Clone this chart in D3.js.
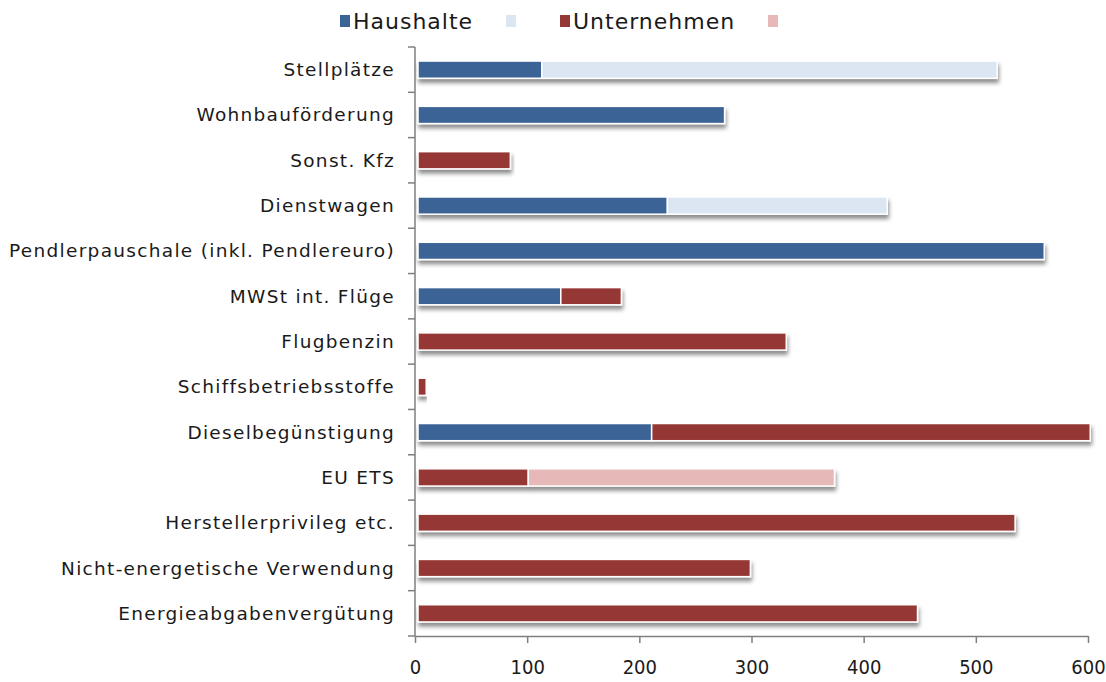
<!DOCTYPE html>
<html>
<head>
<meta charset="utf-8">
<script src="https://cdn.jsdelivr.net/npm/d3@7"></script>
<style>
  body { margin: 0; background: #fff; }
  text { fill: #1a1a1a; }
</style>
</head>
<body>
<div id="chart"></div>
<script>
let categories = ['Stellplätze', 'Wohnbauförderung', 'Sonst. Kfz', 'Dienstwagen',
  'Pendlerpauschale (inkl. Pendlereuro)', 'MWSt int. Flüge', 'Flugbenzin',
  'Schiffsbetriebsstoffe', 'Dieselbegünstigung', 'EU ETS', 'Herstellerprivileg etc.',
  'Nicht-energetische Verwendung', 'Energieabgabenvergütung'];

// stacked segments, in stack order
let haushalte      = [113, 276, 0, 225, 561, 130, 0, 0, 211, 0, 0, 0, 0];
let haushalteLight = [406, 0, 0, 196, 0, 0, 0, 0, 0, 0, 0, 0, 0];
let unternehmen    = [0, 0, 85, 0, 0, 54, 331, 10, 391, 101, 535, 299, 448];
let unternLight    = [0, 0, 0, 0, 0, 0, 0, 0, 0, 273, 0, 0, 0];

let seriesNames = ['Haushalte', '', 'Unternehmen', ''];
let colors = ['#3b6496', '#dce6f2', '#953735', '#e6b9b8'];
let xTicks = [0, 100, 200, 300, 400, 500, 600];

let width = 1106;
let height = 682;

let rows = categories.map((c, i) => ({
  cat: c, s0: haushalte[i], s1: haushalteLight[i], s2: unternehmen[i], s3: unternLight[i]
}));

let stack = d3.stack().keys(['s0', 's1', 's2', 's3']);
let layers = stack(rows);

let x = d3.scaleLinear().domain([0, 600]).range([415, 1088]);
let y = d3.scaleBand().domain(categories).range([47, 636]).paddingInner(0.62).paddingOuter(0.31);

let svg = d3.select('#chart').append('svg')
  .attr('width', width)
  .attr('height', height);

let defs = svg.append('defs');
let f = defs.append('filter').attr('id', 'shadow')
  .attr('x', '-5%').attr('y', '-50%').attr('width', '110%').attr('height', '250%');
f.append('feDropShadow')
  .attr('dx', 1).attr('dy', 4).attr('stdDeviation', 2)
  .attr('flood-color', '#000').attr('flood-opacity', 0.45);

// bars
let g = svg.append('g');
g.selectAll('g.bar')
  .data(rows)
  .enter()
  .append('g')
  .attr('class', 'bar')
  .attr('filter', 'url(#shadow)')
  .each(function(d, i) {
    let sel = d3.select(this);
    layers.forEach((layer, k) => {
      let seg = layer[i];
      if (seg[1] - seg[0] <= 0) return;
      let x0 = seg[0] === 0 ? x(0) + 3 : x(seg[0]);
      sel.append('rect')
        .attr('x', x0)
        .attr('y', y(d.cat))
        .attr('width', x(seg[1]) - x0)
        .attr('height', y.bandwidth())
        .attr('fill', colors[k])
        .attr('stroke', '#fff')
        .attr('stroke-width', 1.5);
    });
  });

// y axis
let yAxisG = svg.append('g')
  .attr('transform', 'translate(415,0)');
yAxisG.append('line')
  .attr('x1', 0).attr('x2', 0).attr('y1', 47).attr('y2', 636)
  .attr('stroke', '#7f7f7f').attr('stroke-width', 1.5);
let step = (636 - 47) / categories.length;
yAxisG.selectAll('line.tick')
  .data(d3.range(categories.length + 1))
  .enter()
  .append('line')
  .attr('class', 'tick')
  .attr('x1', -7).attr('x2', 0)
  .attr('y1', (d) => 47 + d * step)
  .attr('y2', (d) => 47 + d * step)
  .attr('stroke', '#7f7f7f').attr('stroke-width', 1.5);
yAxisG.selectAll('text')
  .data(categories)
  .enter()
  .append('text')
  .attr('x', -20)
  .attr('y', (d) => y(d) + y.bandwidth() / 2)
  .attr('dy', '0.35em')
  .attr('text-anchor', 'end')
  .style('font-family', 'DejaVu Sans, sans-serif')
  .style('font-size', '18.5px')
  .style('letter-spacing', '1.3px')
  .text((d) => d);

// x axis
let xAxis = d3.axisBottom(x).tickValues(xTicks).tickSize(7).tickSizeOuter(0).tickPadding(17);
let xAxisG = svg.append('g')
  .attr('transform', 'translate(0,636)')
  .call(xAxis);
xAxisG.select('.domain').attr('stroke', '#7f7f7f').attr('stroke-width', 1.5);
xAxisG.selectAll('.tick line').attr('stroke', '#7f7f7f').attr('stroke-width', 1.5);
xAxisG.selectAll('.tick text')
  .style('font-family', 'DejaVu Sans Condensed, Liberation Sans Narrow, sans-serif')
  .style('font-stretch', 'condensed')
  .style('font-size', '20px')
  .attr('fill', '#1a1a1a');

// legend
let legendX = [340, 506, 560, 768];
let legend = svg.append('g');
seriesNames.forEach((name, k) => {
  legend.append('rect')
    .attr('x', legendX[k]).attr('y', 15)
    .attr('width', 10).attr('height', 12)
    .attr('fill', colors[k]);
  if (name) {
    legend.append('text')
      .attr('x', legendX[k] + 13).attr('y', 21)
      .attr('dy', '0.35em')
      .style('font-family', 'DejaVu Sans, sans-serif')
      .style('font-size', '22px')
      .style('letter-spacing', '1px')
      .text(name);
  }
});
</script>
</body>
</html>
